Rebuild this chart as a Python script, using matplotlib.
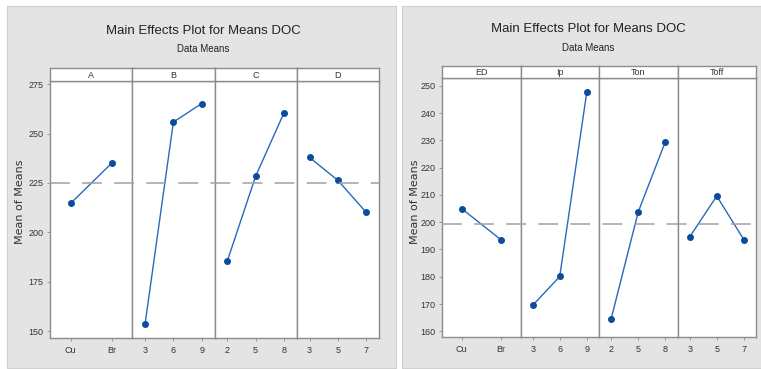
import matplotlib
matplotlib.use("Agg")
import matplotlib.pyplot as plt
from matplotlib.patches import Rectangle
from matplotlib.lines import Line2D

# factor names, level labels and mean DOC per level (first study)
factors_1 = ["A", "B", "C", "D"]
levels_1 = [["Cu", "Br"], ["3", "6", "9"], ["2", "5", "8"], ["3", "5", "7"]]
means_1 = [[214.6, 235.0], [153.4, 255.8, 265.2], [185.4, 228.4, 260.5], [237.9, 226.3, 210.1]]
grand_1 = 225.0
yticks_1 = [150, 175, 200, 225, 250, 275]
ylim_1 = (146.5, 276.6)

# second study
factors_2 = ["ED", "Ip", "Ton", "Toff"]
levels_2 = [["Cu", "Br"], ["3", "6", "9"], ["2", "5", "8"], ["3", "5", "7"]]
means_2 = [[205.0, 193.6], [169.5, 180.1, 247.8], [164.6, 203.8, 229.5], [194.6, 209.6, 193.6]]
grand_2 = 199.3
yticks_2 = [160, 170, 180, 190, 200, 210, 220, 230, 240, 250]
ylim_2 = (157.9, 252.9)

W, H = 761, 369
fig = plt.figure(figsize=(W / 100, H / 100), dpi=100)
fig.patch.set_facecolor("white")

LINE = "#2a68bd"
MARK = "#0b4d9c"
FRAME = "#8c8c8c"
TXT = "#333333"
FONT = ["Liberation Sans", "DejaVu Sans"]


def box(x0, y0, x1, y1):
    # pixel box (top-left origin) -> figure fraction rect
    return [x0 / W, 1 - y1 / H, (x1 - x0) / W, (y1 - y0) / H]


def panel_bg(px0, px1):
    fig.patches.append(Rectangle((px0 / W, 1 - 368 / H), (px1 - px0) / W, 362 / H,
                                 transform=fig.transFigure, facecolor="#e4e4e4",
                                 edgecolor="#d0d0d0", lw=0.8, zorder=-5))


def draw_group(x0, x1, strip_top, plot_top, plot_bot, factors, levels, means,
               grand, yticks, ylim):
    n = len(factors)
    w = (x1 - x0) / n
    axes = []
    for i in range(n):
        ax = fig.add_axes(box(x0 + i * w, plot_top, x0 + (i + 1) * w, plot_bot))
        k = len(levels[i])
        xs = list(range(1, k + 1))
        ax.plot(xs, means[i], color=LINE, lw=1.0, marker="o", ms=4.0,
                markerfacecolor=MARK, markeredgecolor=MARK, zorder=3)
        if k == 2:
            ax.set_xlim(0.5, 2.5)
        else:
            ax.set_xlim(0.55, 3.45)
        ax.set_ylim(*ylim)
        ax.set_xticks(xs)
        ax.set_xticklabels(levels[i], fontsize=6.5, color=TXT, family=FONT)
        ax.tick_params(axis="x", length=2.5, width=0.6, color=FRAME, pad=3)
        ax.set_yticks(yticks)
        if i == 0:
            ax.set_yticklabels([str(t) for t in yticks], fontsize=6.5, color=TXT, family=FONT)
            ax.tick_params(axis="y", length=2.5, width=0.6, color=FRAME, pad=2)
        else:
            ax.tick_params(axis="y", left=False, labelleft=False)
        for s in ax.spines.values():
            s.set_color(FRAME)
            s.set_linewidth(1.0)
        axes.append(ax)

        st = fig.add_axes(box(x0 + i * w, strip_top, x0 + (i + 1) * w, plot_top))
        st.set_xticks([])
        st.set_yticks([])
        for s in st.spines.values():
            s.set_color(FRAME)
            s.set_linewidth(1.0)
        st.text(0.5, 0.45, factors[i], ha="center", va="center", fontsize=6.5,
                color=TXT, family=FONT, transform=st.transAxes)

    # grand mean reference line runs across all panels of the group
    yd = axes[0].transData.transform((1, grand))[1]
    yf = fig.transFigure.inverted().transform((0, yd))[1]
    fig.add_artist(Line2D([x0 / W, x1 / W], [yf, yf], transform=fig.transFigure,
                          color="#a0a0a0", lw=1.1, dashes=(13, 8), zorder=2))


panel_bg(7, 396)
panel_bg(402, 761)

draw_group(50, 379, 68, 81, 338, factors_1, levels_1, means_1, grand_1, yticks_1, ylim_1)
draw_group(442, 756, 66, 78, 337, factors_2, levels_2, means_2, grand_2, yticks_2, ylim_2)

for cx, ty, sy, lx in [(203, 31, 49, 20), (588, 29, 48, 415)]:
    fig.text(cx / W, 1 - ty / H, "Main Effects Plot for Means DOC", ha="center",
             va="center", fontsize=9.5, color="#222222", family=FONT)
    fig.text(cx / W, 1 - sy / H, "Data Means", ha="center", va="center",
             fontsize=7, color="#222222", family=FONT)
    fig.text(lx / W, 1 - 202 / H, "Mean of Means", ha="center", va="center",
             rotation=90, fontsize=8, color="#333333", family="DejaVu Sans")

fig.savefig("out.png", dpi=100)
